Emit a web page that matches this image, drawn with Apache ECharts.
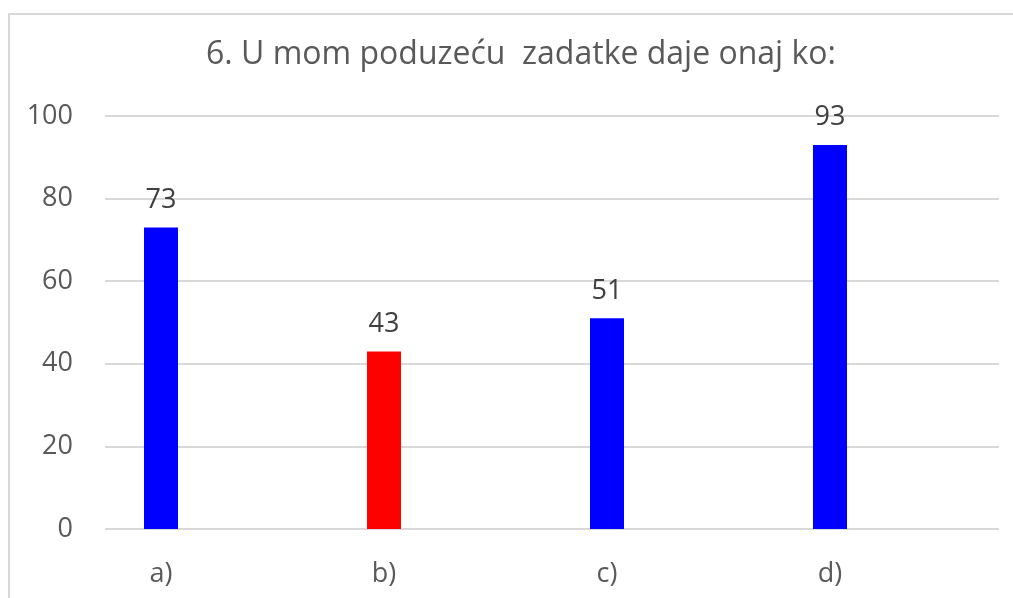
<!DOCTYPE html>
<html>
<head>
<meta charset="utf-8">
<script src="https://cdn.jsdelivr.net/npm/echarts@6/dist/echarts.min.js"></script>
<style>
  html, body { margin: 0; padding: 0; background: #fff; }
  #chart { width: 1013px; height: 598px; }
</style>
</head>
<body>
<div id="chart"></div>
<script>
const categories = ['a)', 'b)', 'c)', 'd)'];
const values = [73, 43, 51, 93];
const barColors = ['#0000ff', '#ff0000', '#0000ff', '#0000ff'];
const titleText = '6. U mom poduzeću  zadatke daje onaj ko:';

const font = '"Open Sans", sans-serif';

let dom = document.getElementById('chart');
let chart = echarts.init(dom);

const options = {
  animation: false,
  title: {
    text: titleText,
    left: 516,
    textAlign: 'center',
    top: 34,
    textStyle: { fontFamily: font, fontSize: 32, fontWeight: 'normal', color: '#595959' }
  },
  graphic: [{
    type: 'rect',
    shape: { x: 9, y: 14, width: 1020, height: 620 },
    style: { fill: 'none', stroke: '#d9d9d9', lineWidth: 2 }
  }],
  grid: [
    // gridlines + y labels
    { left: 105, right: 14, top: 116, bottom: 69 },
    // bars + category labels
    { left: 49.5, right: 71.5, top: 116, bottom: 69 }
  ],
  xAxis: [
    { type: 'category', gridIndex: 0, data: [''], show: false },
    {
      type: 'category', gridIndex: 1, data: categories,
      axisLine: { show: false }, axisTick: { show: false },
      axisLabel: { fontFamily: font, fontSize: 27, color: '#595959', margin: 32 }
    }
  ],
  yAxis: [
    {
      type: 'value', gridIndex: 0, min: 0, max: 100, interval: 20,
      axisLine: { show: false }, axisTick: { show: false },
      axisLabel: { fontFamily: font, fontSize: 27, color: '#595959', margin: 32 },
      splitLine: { lineStyle: { color: '#d9d9d9', width: 2 } }
    },
    {
      type: 'value', gridIndex: 1, min: 0, max: 100, interval: 20, show: false,
      splitLine: { show: false }
    }
  ],
  series: [{
    type: 'bar',
    xAxisIndex: 1,
    yAxisIndex: 1,
    barWidth: 34,
    data: values.map((v, i) => ({ value: v, itemStyle: { color: barColors[i] } })),
    label: {
      show: true, position: 'top', distance: 14,
      fontFamily: font, fontSize: 27, color: '#404040'
    }
  }]
};

chart.setOption(options, true);
</script>
</body>
</html>
